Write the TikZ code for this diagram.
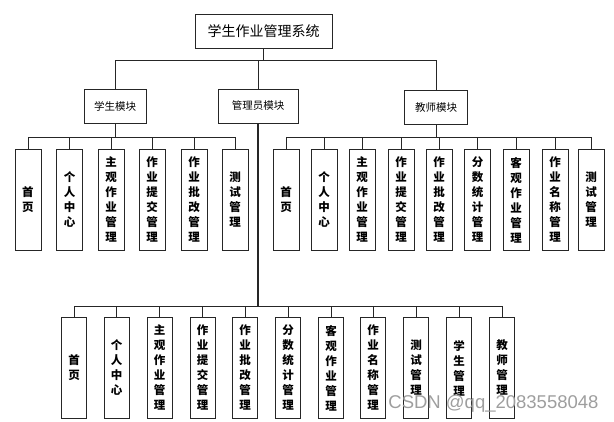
\documentclass[tikz,border=0pt]{standalone}
\usepackage{fontspec}
\setmainfont{Noto Sans CJK SC}
\newfontfamily\wmfont{Liberation Sans}

\begin{document}
\begin{tikzpicture}[
		x=1pt, y=-1pt,
		every node/.style={rectangle, draw=black!85, line width=0.8pt, inner sep=0pt},
		sysbox/.style={minimum width=137pt, minimum height=34pt, font=\fontsize{14}{16}\selectfont},
		modbox/.style={minimum height=34pt, font=\fontsize{10.5}{12}\selectfont},
		leaf/.style={anchor=north, minimum width=26pt, minimum height=101pt, align=center, font=\bfseries\fontsize{11.5}{15}\selectfont},
		link/.style={draw=black!85, line width=0.8pt}
	]
  \useasboundingbox (0,0) rectangle (614,422);
  % top and modules
  \node (sys) [sysbox] at (263.5, 31) {学生作业管理系统};
  \node (stu) [modbox, minimum width=62pt] at (115, 106) {学生模块};
  \node (adm) [modbox, minimum width=80pt] at (258, 106) {管理员模块};
  \node (tch) [modbox, minimum width=63pt] at (436, 107.5) {教师模块};
  \coordinate (top_bus) at (263.5, 60);
  \coordinate (stu_bus) at (115, 137);
  \coordinate (tch_bus) at (436, 137);
  \coordinate (adm_bus) at (258, 306);
  % student leaves
  \node (stu_1) [leaf] at (28, 149) {首\\页};
  \node (stu_2) [leaf] at (69.5, 149) {个\\人\\中\\心};
  \node (stu_3) [leaf] at (111, 149) {主\\观\\作\\业\\管\\理};
  \node (stu_4) [leaf] at (152, 149) {作\\业\\提\\交\\管\\理};
  \node (stu_5) [leaf] at (194, 149) {作\\业\\批\\改\\管\\理};
  \node (stu_6) [leaf] at (235, 149) {测\\试\\管\\理};
  % teacher leaves
  \node (tch_1) [leaf] at (286, 149) {首\\页};
  \node (tch_2) [leaf] at (324, 149) {个\\人\\中\\心};
  \node (tch_3) [leaf] at (362, 149) {主\\观\\作\\业\\管\\理};
  \node (tch_4) [leaf] at (401, 149) {作\\业\\提\\交\\管\\理};
  \node (tch_5) [leaf] at (439, 149) {作\\业\\批\\改\\管\\理};
  \node (tch_6) [leaf] at (477.5, 149) {分\\数\\统\\计\\管\\理};
  \node (tch_7) [leaf] at (516, 149) {客\\观\\作\\业\\管\\理};
  \node (tch_8) [leaf] at (555, 149) {作\\业\\名\\称\\管\\理};
  \node (tch_9) [leaf] at (591, 149) {测\\试\\管\\理};
  % admin leaves
  \node (adm_1) [leaf, minimum width=25pt] at (74, 317) {首\\页};
  \node (adm_2) [leaf, minimum width=25pt] at (116.5, 317) {个\\人\\中\\心};
  \node (adm_3) [leaf, minimum width=25pt] at (159.5, 317) {主\\观\\作\\业\\管\\理};
  \node (adm_4) [leaf, minimum width=25pt] at (202.5, 317) {作\\业\\提\\交\\管\\理};
  \node (adm_5) [leaf, minimum width=25pt] at (245, 317) {作\\业\\批\\改\\管\\理};
  \node (adm_6) [leaf, minimum width=25pt] at (288, 317) {分\\数\\统\\计\\管\\理};
  \node (adm_7) [leaf, minimum width=25pt] at (331, 317) {客\\观\\作\\业\\管\\理};
  \node (adm_8) [leaf, minimum width=25pt] at (373, 317) {作\\业\\名\\称\\管\\理};
  \node (adm_9) [leaf, minimum width=25pt] at (416, 317) {测\\试\\管\\理};
  \node (adm_10) [leaf, minimum width=25pt] at (459, 317) {学\\生\\管\\理};
  \node (adm_11) [leaf, minimum width=25pt] at (502, 317) {教\\师\\管\\理};
  % connectors
  \draw [link] (sys.south) -- (top_bus);
  \foreach \m in {stu, adm, tch}
    \draw [link] (\m.north) |- (top_bus);
  \draw [link] (stu.south) -- (stu_bus);
  \foreach \i in {1,...,6}
    \draw [link] (stu_\i.north) |- (stu_bus);
  \draw [link] (tch.south) -- (tch_bus);
  \foreach \i in {1,...,9}
    \draw [link] (tch_\i.north) |- (tch_bus);
  \draw [link, line width=1.4pt] (adm.south) -- (adm_bus);
  \foreach \i in {1,...,11}
    \draw [link] (adm_\i.north) |- (adm_bus);
  % watermark
  \node (wm) [draw=none, anchor=base west, text=black!38, font=\wmfont\fontsize{18.5}{20}\selectfont] at (388, 409) {CSDN @qq\_2083558048};
\end{tikzpicture}
\end{document}
